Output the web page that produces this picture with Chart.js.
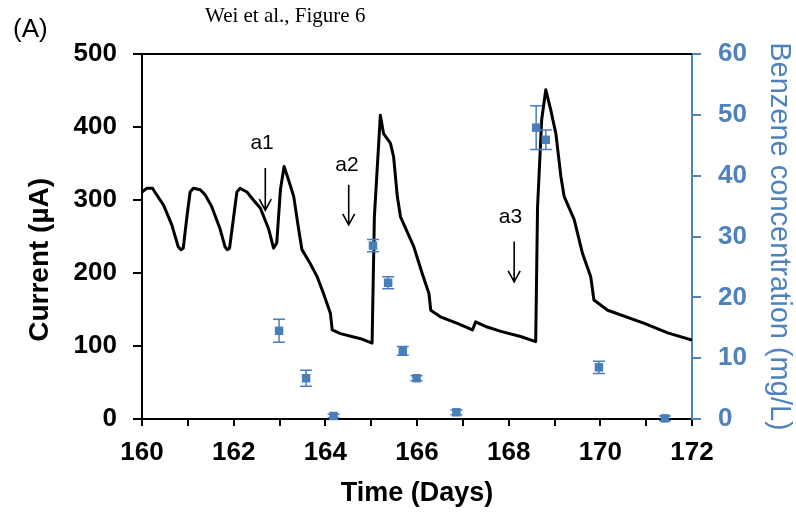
<!DOCTYPE html>
<html>
<head>
<meta charset="utf-8">
<script src="https://cdn.jsdelivr.net/npm/chart.js@4.4.1/dist/chart.umd.min.js"></script>
<style>
body { margin: 0; background: #fff; }
#caixa { position: relative; width: 796px; height: 513px; }
#titulo { position: absolute; left: 205px; top: 3px; font: 21px 'Liberation Serif', 'Times New Roman', serif; color: #000; }
#letra { position: absolute; left: 13px; top: 13px; font: 26px 'Liberation Sans', Arial, sans-serif; color: #000; }
canvas { position: absolute; left: 0; top: 0; }
</style>
</head>
<body>
<div id="caixa">
<canvas id="grafico" width="796" height="513"></canvas>
<div id="titulo">Wei et al., Figure 6</div>
<div id="letra">(A)</div>
</div>
<script>
// corrente (µA) ao longo do tempo (dias)
const diasCorrente = [160.00, 160.10, 160.23, 160.28, 160.47, 160.65, 160.79, 160.85, 160.90, 160.98, 161.05,
    161.12, 161.27, 161.38, 161.52, 161.70, 161.81, 161.86, 161.91, 162.00, 162.07, 162.14,
    162.29, 162.43, 162.58, 162.76, 162.87, 162.94, 163.02, 163.10, 163.20, 163.31,
    163.42, 163.49, 163.67, 163.82, 163.96, 164.11, 164.15, 164.33, 164.77, 165.02,
    165.07, 165.20, 165.27, 165.42, 165.49, 165.57, 165.64, 165.93, 166.11, 166.26,
    166.30, 166.51, 166.88, 167.21, 167.28, 167.53, 167.83, 168.26, 168.59, 168.63,
    168.72, 168.81, 168.92, 169.03, 169.14, 169.21, 169.43, 169.61, 169.79, 169.86,
    170.16, 170.96, 171.47, 172.00]
const corrente = [311, 316, 316, 311, 293, 266, 236, 232, 234, 277, 311,
    316, 314, 307, 291, 261, 236, 232, 234, 277, 311, 316,
    311, 300, 289, 261, 234, 241, 314, 346, 327, 305,
    259, 232, 213, 195, 172, 145, 122, 117, 110, 104,
    277, 416, 391, 378, 359, 305, 277, 236, 200, 172,
    149, 140, 131, 122, 133, 126, 120, 113, 106, 290,
    410, 451, 423, 391, 332, 305, 273, 227, 195, 163,
    149, 131, 118, 108]

// benzeno (mg/L) com barras de erro
const diasBenzeno = [162.99, 163.58, 164.18, 165.04, 165.37, 165.69, 165.99, 166.86, 168.60, 168.81, 169.97, 171.41]
const benzeno = [14.5, 6.7, 0.5, 28.5, 22.4, 11.2, 6.7, 1.1, 47.9, 45.9, 8.5, 0.1]
const erroBenzeno = [1.9, 1.3, 0.3, 1.0, 1.0, 0.7, 0.4, 0.4, 3.6, 1.6, 1.0, 0.4]

const rotulosSetas = ['a1', 'a2', 'a3']
const diasSetas = [162.69, 164.51, 168.12]

const azul = '#4A7EBB'
const azulEixo = '#4F81BD'
const fonte = "'Liberation Sans', Arial, sans-serif"

// posição das setas em unidades do eixo de corrente
const setas = [
    { xTexto: 162.62, yTexto: 378, yTopo: 344, yBase: 286 },
    { xTexto: 164.47, yTexto: 348, yTopo: 321, yBase: 266 },
    { xTexto: 168.04, yTexto: 277, yTopo: 243, yBase: 188 }
]

let pontosCorrente = []
for (let i = 0; i < diasCorrente.length; i++) {
    pontosCorrente.push({ x: diasCorrente[i], y: corrente[i] })
}
let pontosBenzeno = []
for (let i = 0; i < diasBenzeno.length; i++) {
    pontosBenzeno.push({ x: diasBenzeno[i], y: benzeno[i] })
}

const extras = {
    id: 'extras',
    afterDatasetsDraw(chart) {
        const ctx = chart.ctx
        const x = chart.scales.x
        const y = chart.scales.y
        const y1 = chart.scales.y1
        const area = chart.chartArea
        ctx.save()

        ctx.strokeStyle = '#000'
        ctx.lineWidth = 2
        ctx.beginPath()
        ctx.moveTo(area.left, area.top)
        ctx.lineTo(area.right, area.top)
        ctx.stroke()

        ctx.strokeStyle = azul
        ctx.lineWidth = 1.5
        for (let i = 0; i < diasBenzeno.length; i++) {
            let px = x.getPixelForValue(diasBenzeno[i])
            let topo = y1.getPixelForValue(benzeno[i] + erroBenzeno[i])
            let base = y1.getPixelForValue(benzeno[i] - erroBenzeno[i])
            ctx.beginPath()
            ctx.moveTo(px, topo)
            ctx.lineTo(px, base)
            ctx.moveTo(px - 6, topo)
            ctx.lineTo(px + 6, topo)
            ctx.moveTo(px - 6, base)
            ctx.lineTo(px + 6, base)
            ctx.stroke()
        }

        ctx.strokeStyle = '#000'
        ctx.fillStyle = '#000'
        ctx.lineWidth = 1.6
        ctx.font = '21px ' + fonte
        ctx.textAlign = 'center'
        ctx.textBaseline = 'middle'
        for (let i = 0; i < setas.length; i++) {
            let s = setas[i]
            ctx.fillText(rotulosSetas[i], x.getPixelForValue(s.xTexto), y.getPixelForValue(s.yTexto))
            let px = x.getPixelForValue(diasSetas[i])
            let topo = y.getPixelForValue(s.yTopo)
            let base = y.getPixelForValue(s.yBase)
            ctx.beginPath()
            ctx.moveTo(px, topo)
            ctx.lineTo(px, base)
            ctx.moveTo(px - 6, base - 11)
            ctx.lineTo(px, base)
            ctx.lineTo(px + 6, base - 11)
            ctx.stroke()
        }
        ctx.restore()
    }
}

let ctx = document.getElementById('grafico').getContext('2d')
new Chart(ctx, {
    type: 'scatter',
    data: {
        datasets: [{
            label: 'Benzene',
            data: pontosBenzeno,
            yAxisID: 'y1',
            backgroundColor: azul,
            borderColor: azul,
            pointStyle: 'rect',
            pointRadius: 6,
            pointHoverRadius: 6,
            borderWidth: 0,
            clip: false,
            order: 0
        }, {
            label: 'Current',
            data: pontosCorrente,
            yAxisID: 'y',
            showLine: true,
            borderColor: '#000',
            borderWidth: 3,
            borderJoinStyle: 'round',
            pointRadius: 0,
            tension: 0,
            order: 1
        }]
    },
    options: {
        responsive: false,
        animation: false,
        layout: { padding: { top: 54, left: 0, right: 0, bottom: 0 } },
        plugins: {
            legend: { display: false },
            tooltip: { enabled: false }
        },
        scales: {
            x: {
                type: 'linear',
                min: 160,
                max: 172,
                afterFit: (scale) => { scale.height = 94 },
                border: { display: true, color: '#000', width: 2 },
                grid: { drawOnChartArea: false, drawTicks: true, tickLength: 7, color: '#000', lineWidth: 2 },
                ticks: {
                    stepSize: 1,
                    autoSkip: false,
                    maxRotation: 0,
                    padding: 11,
                    color: '#000',
                    font: { family: fonte, size: 26, weight: 'bold' },
                    callback: (v) => (v % 2 === 0 ? v : '')
                },
                title: {
                    display: true,
                    text: 'Time (Days)',
                    color: '#000',
                    font: { family: fonte, size: 27, weight: 'bold' },
                    padding: { top: 0, bottom: 3 }
                }
            },
            y: {
                position: 'left',
                min: 0,
                max: 500,
                afterFit: (scale) => { scale.width = 142 },
                border: { display: true, color: '#000', width: 2 },
                grid: { drawOnChartArea: false, drawTicks: true, tickLength: 9, color: '#000', lineWidth: 2 },
                ticks: {
                    stepSize: 100,
                    padding: 16,
                    color: '#000',
                    font: { family: fonte, size: 26, weight: 'bold' }
                },
                title: {
                    display: true,
                    text: 'Current (µA)      ',
                    color: '#000',
                    font: { family: fonte, size: 28, weight: 'bold' },
                    padding: { top: 23, bottom: 0 }
                }
            },
            y1: {
                position: 'right',
                min: 0,
                max: 60,
                afterFit: (scale) => { scale.width = 104 },
                border: { display: true, color: azulEixo, width: 2 },
                grid: { drawOnChartArea: false, drawTicks: true, tickLength: 9, color: azulEixo, lineWidth: 2 },
                ticks: {
                    stepSize: 10,
                    padding: 17,
                    color: azulEixo,
                    font: { family: fonte, size: 26, weight: 'bold' }
                },
                title: {
                    display: true,
                    text: 'Benzene concentration (mg/L)',
                    color: azulEixo,
                    font: { family: fonte, size: 29 },
                    padding: { top: 0, bottom: 0 }
                }
            }
        }
    },
    plugins: [extras]
})
</script>
</body>
</html>
